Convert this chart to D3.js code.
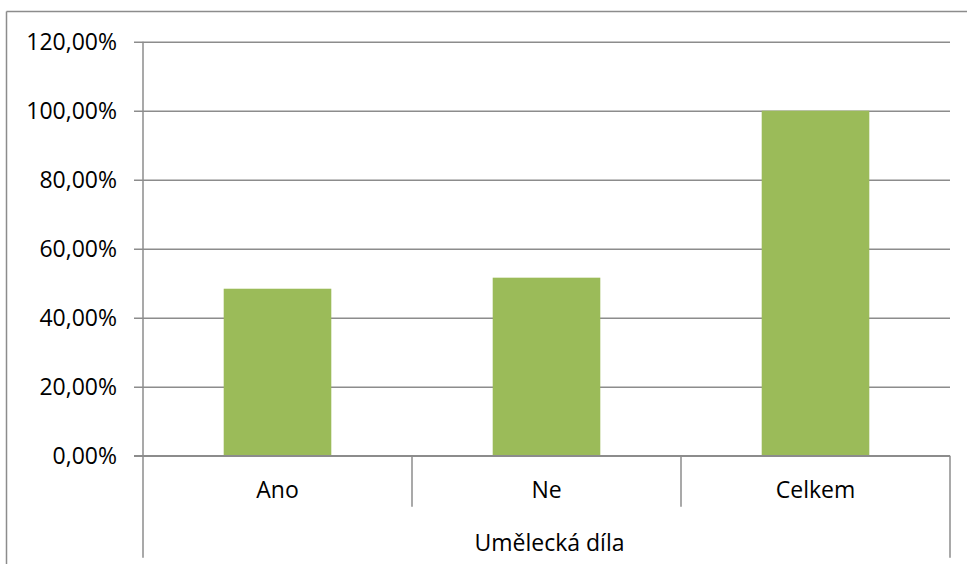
<!DOCTYPE html>
<html>
<head>
<meta charset="utf-8">
<script src="https://cdn.jsdelivr.net/npm/d3@7"></script>
<style>
  html, body { margin: 0; padding: 0; background: #fff; }
  svg { display: block; }
  text { font-family: "Open Sans", sans-serif; fill: #000; }
</style>
</head>
<body>
<svg id="chart" width="967" height="564"></svg>
<script>
// ---- data ----
const categories = ["Ano", "Ne", "Celkem"];
const values = [0.484, 0.516, 1.0];
const groupLabel = "Umělecká díla";
const yTicks = [0, 0.2, 0.4, 0.6, 0.8, 1.0, 1.2];

// ---- setup ----
const W = 967, H = 564;
const plotLeft = 143, plotRight = 950, plotTop = 41.7, plotBottom = 455.7;
const gridColor = "#8c8c8c";
const barColor = "#9BBB59";
const fontSize = 23;

const svg = d3.select("#chart");

const locale = d3.formatLocale({decimal: ",", thousands: " ", grouping: [3], currency: ["", " Kč"]});
const fmt = locale.format(".2%");

const y = d3.scaleLinear().domain([0, 1.2]).range([plotBottom, plotTop]);
const x = d3.scaleBand().domain(categories).range([plotLeft, plotRight])
  .paddingInner(0.6).paddingOuter(0.3);

// outer frame (top and left edges visible)
svg.append("line").attr("x1", 6.5).attr("x2", W).attr("y1", 11.5).attr("y2", 11.5)
  .attr("stroke", gridColor).attr("stroke-width", 1.5);
svg.append("line").attr("x1", 6.5).attr("x2", 6.5).attr("y1", 11.5).attr("y2", H)
  .attr("stroke", gridColor).attr("stroke-width", 1.5);

// y axis with gridlines
const yAxis = d3.axisLeft(y)
  .tickValues(yTicks)
  .tickFormat(fmt)
  .tickSizeInner(-(plotRight - plotLeft))
  .tickSizeOuter(0)
  .tickPadding(26);

const gy = svg.append("g").attr("transform", `translate(${plotLeft},0)`).call(yAxis);
gy.select(".domain").remove();
gy.selectAll(".tick line")
  .attr("x1", -9)
  .attr("stroke", gridColor)
  .attr("stroke-width", 1.5);
gy.selectAll(".tick text")
  .attr("font-family", "Open Sans, sans-serif")
  .attr("font-size", fontSize)
  .attr("fill", "#000")
  .attr("dy", "0.33em");

// bars
svg.append("g").selectAll("rect")
  .data(categories.map((c, i) => ({c, v: values[i]})))
  .join("rect")
  .attr("x", d => x(d.c))
  .attr("width", x.bandwidth())
  .attr("y", d => y(d.v))
  .attr("height", d => y(0) - y(d.v))
  .attr("fill", barColor);

// redraw baseline over bars
svg.append("line").attr("x1", plotLeft - 9).attr("x2", plotRight).attr("y1", y(0)).attr("y2", y(0))
  .attr("stroke", gridColor).attr("stroke-width", 1.5);

// y axis line + outer category separators
svg.append("line").attr("x1", plotLeft).attr("x2", plotLeft).attr("y1", plotTop).attr("y2", 557.7)
  .attr("stroke", gridColor).attr("stroke-width", 1.5);
svg.append("line").attr("x1", plotRight).attr("x2", plotRight).attr("y1", y(0)).attr("y2", 557.7)
  .attr("stroke", gridColor).attr("stroke-width", 1.5);

// inner category separators
const step = x.step();
const seps = categories.slice(1).map(c => x(c) - x.paddingInner() * step / 2);
svg.append("g").selectAll("line").data(seps).join("line")
  .attr("x1", d => d).attr("x2", d => d)
  .attr("y1", y(0)).attr("y2", 506.7)
  .attr("stroke", gridColor).attr("stroke-width", 1.5);

// category labels
svg.append("g").selectAll("text").data(categories).join("text")
  .attr("x", d => x(d) + x.bandwidth() / 2)
  .attr("y", 497.5)
  .attr("text-anchor", "middle")
  .attr("font-size", fontSize)
  .text(d => d);

// group label
svg.append("text")
  .attr("x", (plotLeft + plotRight) / 2 + 3)
  .attr("y", 551)
  .attr("text-anchor", "middle")
  .attr("font-size", fontSize)
  .text(groupLabel);
</script>
</body>
</html>
